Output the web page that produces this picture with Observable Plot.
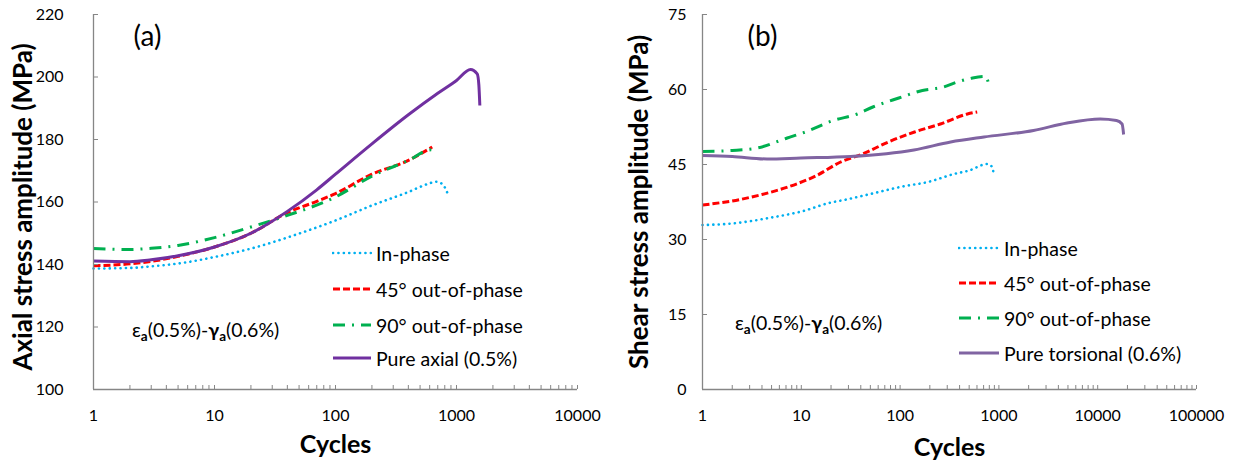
<!DOCTYPE html>
<html><head><meta charset="utf-8">
<script src="https://cdn.jsdelivr.net/npm/d3@7"></script>
<script src="https://cdn.jsdelivr.net/npm/@observablehq/plot@0.6"></script>
<style>
body{margin:0;background:#fff;font-family:Lato,"DejaVu Sans",sans-serif}
#wrap{position:relative;width:1233px;height:460px;display:flex}
.row{position:absolute;display:flex;align-items:center;height:24px;font-size:19.5px;color:#000;white-space:nowrap}
.row svg{margin-right:4px}
.ann{position:absolute;font-size:19.5px;white-space:nowrap;color:#000;line-height:24px}
.ann sub{font-size:13.5px;vertical-align:-4px}
</style></head><body><div id="wrap"></div>
<script>
// ---------- data: panel (a) axial stress amplitude (MPa) ----------
const inPhaseA_N = [1, 2, 3, 5, 10, 20, 50, 100, 200, 400, 600, 670, 760, 810, 855];
const inPhaseA_S = [138.7, 138.9, 139.4, 140.3, 142.4, 145.1, 149.9, 154.1, 158.9, 163.2, 166.0, 166.5, 165.8, 164.3, 162.2];
const oop45A_N = [1, 2, 3, 5, 8, 10, 20, 40, 70, 100, 200, 400, 630];
const oop45A_S = [139.6, 140.2, 141.0, 142.6, 144.5, 145.6, 150.0, 156.6, 160.2, 162.7, 168.9, 173.3, 177.6];
const oop90A_N = [1, 2, 3, 5, 10, 20, 40, 100, 200, 400, 617, 660, 693];
const oop90A_S = [145.1, 144.8, 145.2, 146.1, 148.6, 152.0, 155.7, 161.6, 168.3, 173.3, 176.7, 176.4, 175.9];
const pureAxial_N = [1, 2, 3, 5, 10, 20, 40, 70, 100, 200, 400, 700, 1000, 1306, 1483, 1530, 1559];
const pureAxial_S = [141.1, 140.9, 141.5, 142.8, 145.6, 150.0, 157.0, 163.9, 168.9, 178.6, 187.9, 194.8, 198.9, 202.4, 201.0, 197.5, 190.9];

// ---------- data: panel (b) shear stress amplitude (MPa) ----------
const inPhaseB_N = [1, 2, 5, 10, 20, 27, 50, 100, 200, 350, 500, 762, 855, 889];
const inPhaseB_S = [32.9, 33.2, 34.4, 35.6, 37.4, 37.9, 39.1, 40.5, 41.6, 43.1, 43.8, 45.1, 44.5, 42.8];
const oop45B_N = [1, 2.4, 4, 7.3, 14.3, 25, 41.7, 76, 140, 256, 480, 603];
const oop45B_S = [36.9, 38.0, 39.0, 40.5, 42.8, 45.5, 47.1, 49.5, 51.5, 53.1, 55.1, 55.5];
const oop90B_N = [1, 2, 3.6, 7.2, 11, 21, 37, 53, 97, 168, 275, 378, 541, 732, 791];
const oop90B_S = [47.6, 47.8, 48.3, 50.3, 51.5, 53.8, 55.1, 56.5, 58.3, 59.8, 60.5, 61.5, 62.3, 62.6, 61.0];
const pureTors_N = [1, 2, 4.5, 9.9, 31.6, 138, 325, 706, 2240, 4900, 10600, 15500, 17650, 18300];
const pureTors_S = [46.8, 46.6, 46.1, 46.3, 46.6, 47.9, 49.5, 50.5, 51.8, 53.3, 54.1, 53.8, 53.1, 51.0];

// ---------- axes ----------
const xDomainA = [1, 10000];
const xDomainB = [1, 100000];
const yDomainA = [100, 220];
const yDomainB = [0, 75];
const yTicksA = [100, 120, 140, 160, 180, 200, 220];
const yTicksB = [0, 15, 30, 45, 60, 75];
const xTicksA = [1, 10, 100, 1000, 10000];
const xTicksB = [1, 10, 100, 1000, 10000, 100000];
const yTitleA = "Axial stress amplitude (MPa)";
const yTitleB = "Shear stress amplitude (MPa)";
const xTitle = "Cycles";
const legendA = ["In-phase", "45° out-of-phase", "90° out-of-phase", "Pure axial (0.5%)"];
const legendB = ["In-phase", "45° out-of-phase", "90° out-of-phase", "Pure torsional (0.6%)"];

const gray = "#868686";
const styles = [
  {stroke: "#00B0F0", strokeWidth: 2.6, dash: "0.1 5.3", cap: "round"},
  {stroke: "#FF0000", strokeWidth: 3, dash: "7 3", cap: "butt"},
  {stroke: "#00B050", strokeWidth: 3, dash: "12 7 2 7", cap: "butt"},
  {stroke: "#7030A0", strokeWidth: 3, dash: null, cap: "butt"}
];
const stylesB = styles.slice(0, 3).concat([{stroke: "#8064A2", strokeWidth: 3, dash: null, cap: "butt"}]);

function minorTicks(dom) {
  const out = [];
  for (let p = dom[0]; p < dom[1]; p *= 10) for (let k = 1; k <= 9; k++) out.push(p * k);
  out.push(dom[1]);
  return out;
}

function panel(cfg) {
  const marks = [];
  cfg.series.forEach((s, i) => {
    const st = cfg.styles[i];
    marks.push(Plot.line(d3.zip(s[0], s[1]), {
      x: d => d[0], y: d => d[1], stroke: st.stroke, strokeWidth: st.strokeWidth,
      strokeDasharray: st.dash, strokeLinecap: st.cap, curve: "monotone-x"
    }));
  });
  marks.push(
    Plot.ruleX([cfg.xDomain[0]], {stroke: gray, strokeWidth: 1.3}),
    Plot.ruleY([cfg.yDomain[0]], {stroke: gray, strokeWidth: 1.3}),
    Plot.axisY(cfg.yTicks, {tickSize: 0, tickPadding: cfg.yPad, fontSize: 16, label: null, fill: "#000"}),
    Plot.axisY(cfg.yTicks, {tickSize: 5, dx: 5, tickFormat: () => "", label: null, stroke: gray}),
    Plot.axisX(cfg.xTicks, {tickSize: 0, tickPadding: 20, fontSize: 16, tickFormat: d => String(d), label: null, fill: "#000"}),
    Plot.axisX(minorTicks(cfg.xDomain), {tickSize: 4, dy: -4, tickFormat: () => "", label: null, stroke: gray}),
    Plot.text([cfg.yTitle], {frameAnchor: "left", rotate: -90, dx: cfg.yTitleDx, dy: cfg.yTitleDy, fontSize: 26, fontWeight: "bold", lineAnchor: "middle", textAnchor: "middle", fill: "#000"}),
    Plot.text([xTitle], {frameAnchor: "bottom", dy: cfg.xTitleDy, fontSize: 25, fontWeight: "bold", lineAnchor: "middle", textAnchor: "middle", fill: "#000"}),
    Plot.text([cfg.tag], {frameAnchor: "top-left", dx: cfg.tagDx, dy: 23, fontSize: 28, lineAnchor: "middle", textAnchor: "middle", fill: "#000"})
  );
  return Plot.plot({
    width: cfg.width, height: 460,
    marginLeft: cfg.ml, marginRight: cfg.mr, marginTop: 14, marginBottom: 71,
    x: {type: "log", domain: cfg.xDomain},
    y: {domain: cfg.yDomain},
    style: {fontFamily: "Lato, 'DejaVu Sans', sans-serif", color: "#000", background: "transparent", overflow: "visible"},
    marks
  });
}

const wrap = document.getElementById("wrap");
wrap.appendChild(panel({
  width: 620, ml: 93, mr: 43, xDomain: xDomainA, yDomain: yDomainA, xTicks: xTicksA, yTicks: yTicksA, yPad: 30,
  yTitle: yTitleA, yTitleDx: -70, yTitleDy: 5, xTitleDy: 55, tag: "(a)", tagDx: 54,
  series: [[inPhaseA_N, inPhaseA_S], [oop45A_N, oop45A_S], [oop90A_N, oop90A_S], [pureAxial_N, pureAxial_S]],
  styles: styles
}));
wrap.appendChild(panel({
  width: 613, ml: 82, mr: 37, xDomain: xDomainB, yDomain: yDomainB, xTicks: xTicksB, yTicks: yTicksB, yPad: 16,
  yTitle: yTitleB, yTitleDx: -63, yTitleDy: 0, xTitleDy: 58, tag: "(b)", tagDx: 60,
  series: [[inPhaseB_N, inPhaseB_S], [oop45B_N, oop45B_S], [oop90B_N, oop90B_S], [pureTors_N, pureTors_S]],
  styles: stylesB
}));

function legend(labels, sty, x, rows, len) {
  labels.forEach((lab, i) => {
    const st = sty[i];
    const row = document.createElement("div");
    row.className = "row";
    row.style.left = x + "px";
    row.style.top = (rows[i] - 12) + "px";
    row.innerHTML = `<svg width="${len}" height="10"><line x1="1" x2="${len - 1}" y1="5" y2="5" stroke="${st.stroke}" stroke-width="${st.strokeWidth}" ${st.dash ? `stroke-dasharray="${st.dash}"` : ""} stroke-linecap="${st.cap}"/></svg><span></span>`;
    row.querySelector("span").textContent = lab;
    wrap.appendChild(row);
  });
}
legend(legendA, styles, 332, [253, 289, 325, 358], 40);
legend(legendB, stylesB, 958, [248, 283, 318, 353], 42);

function annotation(x, yc) {
  const d = document.createElement("div");
  d.className = "ann";
  d.style.left = x + "px";
  d.style.top = (yc - 12) + "px";
  d.innerHTML = "ε<sub><b>a</b></sub>(0.5%)-<b>γ</b><sub><b>a</b></sub>(0.6%)";
  wrap.appendChild(d);
}
annotation(132, 330);
annotation(735, 323);
</script></body></html>
